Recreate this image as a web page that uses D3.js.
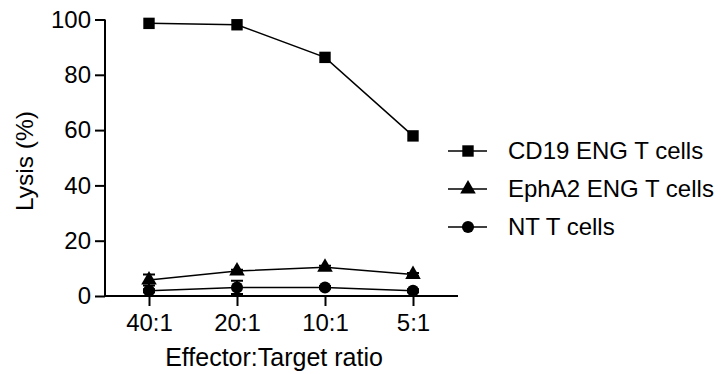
<!DOCTYPE html>
<html>
<head>
<meta charset="utf-8">
<script src="https://cdn.jsdelivr.net/npm/d3@7"></script>
<style>
  body { margin: 0; background: #fff; }
  text { font-family: Arial, "Liberation Sans", sans-serif; fill: #000; }
</style>
</head>
<body>
<div id="chart"></div>
<script>
// data
const ratios = ["40:1", "20:1", "10:1", "5:1"];
const cd19 = [98.6, 98.1, 86.3, 57.9];
const epha2 = [5.8, 9.0, 10.4, 7.8];
const epha2Err = [2.0, 0.5, 0.5, 0.5];
const nt = [1.9, 3.1, 3.1, 1.9];
const ntErr = [0.5, 2.4, 0.5, 0.5];
const yTicks = [0, 20, 40, 60, 80, 100];
const seriesNames = ["CD19 ENG T cells", "EphA2 ENG T cells", "NT T cells"];

const width = 724, height = 374;
const svg = d3.select("#chart").append("svg")
    .attr("width", width)
    .attr("height", height);

const x = d3.scalePoint().domain(ratios).range([105, 457]).padding(0.5);
const y = d3.scaleLinear().domain([0, 100]).range([296, 19.5]);

// axes
const yAxis = svg.append("g")
    .attr("transform", "translate(105,0)")
    .call(d3.axisLeft(y).tickValues(yTicks).tickSize(10).tickPadding(4));
yAxis.select(".domain").attr("d", "M0," + y(100) + "V" + y(0));

const xAxis = svg.append("g")
    .attr("transform", "translate(0,296)")
    .call(d3.axisBottom(x).tickSize(10).tickPadding(8));
xAxis.select(".domain").attr("d", "M105,0H458");

svg.selectAll(".domain, .tick line")
    .attr("stroke", "#000")
    .attr("stroke-width", 2);
svg.selectAll(".tick text")
    .style("font-size", "24px");

// axis titles
svg.append("text")
    .attr("x", 274)
    .attr("y", 366)
    .attr("text-anchor", "middle")
    .style("font-size", "25px")
    .text("Effector:Target ratio");

svg.append("text")
    .attr("transform", "translate(33,161) rotate(-90)")
    .attr("text-anchor", "middle")
    .style("font-size", "24.5px")
    .text("Lysis (%)");

const line = d3.line()
    .x((d, i) => x(ratios[i]))
    .y(d => y(d));

const symSquare = d3.symbol().type(d3.symbolSquare).size(130);
const symTri = d3.symbol().type(d3.symbolTriangle).size(105);
const symCircle = d3.symbol().type(d3.symbolCircle).size(115);

const series = [
  {name: seriesNames[0], values: cd19, err: null, sym: symSquare},
  {name: seriesNames[1], values: epha2, err: epha2Err, sym: symTri},
  {name: seriesNames[2], values: nt, err: ntErr, sym: symCircle}
];

series.forEach(s => {
  const g = svg.append("g");
  g.append("path")
      .datum(s.values)
      .attr("d", line)
      .attr("fill", "none")
      .attr("stroke", "#000")
      .attr("stroke-width", 1.5);

  if (s.err) {
    s.values.forEach((v, i) => {
      const cx = x(ratios[i]);
      const top = y(v + s.err[i]), bot = y(v - s.err[i]);
      g.append("path")
          .attr("d", `M${cx},${top}V${bot}M${cx - 6},${top}H${cx + 6}M${cx - 6},${bot}H${cx + 6}`)
          .attr("stroke", "#000")
          .attr("stroke-width", 2)
          .attr("fill", "none");
    });
  }

  g.selectAll("path.pt")
      .data(s.values)
      .join("path")
      .attr("class", "pt")
      .attr("d", s.sym)
      .attr("transform", (d, i) => `translate(${x(ratios[i])},${y(d)})`)
      .attr("fill", "#000");
});

// legend
const legendY = [151, 189, 227];
const legend = svg.append("g");
series.forEach((s, i) => {
  legend.append("line")
      .attr("x1", 448).attr("x2", 487)
      .attr("y1", legendY[i]).attr("y2", legendY[i])
      .attr("stroke", "#000")
      .attr("stroke-width", 1.5);
  legend.append("path")
      .attr("d", s.sym)
      .attr("transform", `translate(468,${legendY[i]})`)
      .attr("fill", "#000");
  legend.append("text")
      .attr("x", 508)
      .attr("y", legendY[i])
      .attr("dy", "0.35em")
      .style("font-size", "24px")
      .text(s.name);
});
</script>
</body>
</html>
